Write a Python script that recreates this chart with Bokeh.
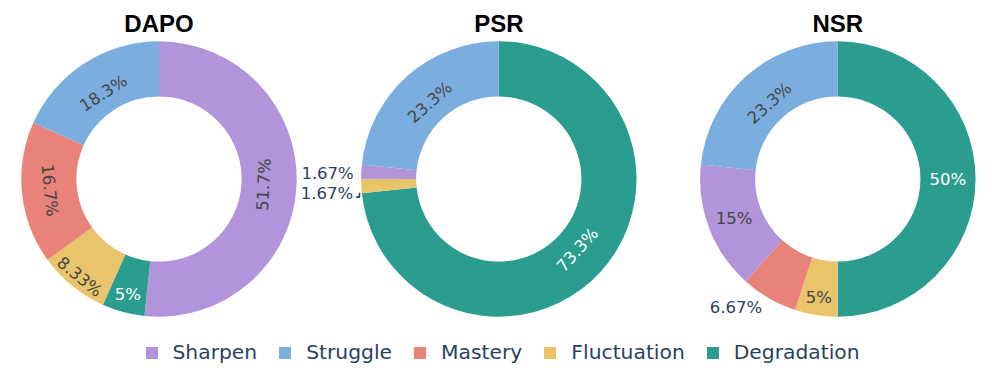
import math
from bokeh.plotting import figure
from bokeh.models import Range1d, Legend, LegendItem, ColumnDataSource
from bokeh.core.properties import value
from bokeh.embed import file_html
from bokeh.resources import INLINE

# ---------------- data ----------------
categories = ["Sharpen", "Struggle", "Mastery", "Fluctuation", "Degradation"]
colors = ["#b294db", "#7badde", "#e9837a", "#e9c46a", "#2a9d8f"]
panels = ["DAPO", "PSR", "NSR"]
dapo_pct = [51.7, 18.3, 16.7, 8.33, 5.0]
psr_pct = [1.67, 23.3, 0.0, 1.67, 73.3]
nsr_pct = [15.0, 23.3, 6.67, 5.0, 50.0]
# slice order, clockwise from 12 o'clock
dapo_order = ["Sharpen", "Degradation", "Fluctuation", "Mastery", "Struggle"]
psr_order = ["Degradation", "Fluctuation", "Mastery", "Sharpen", "Struggle"]
nsr_order = ["Degradation", "Fluctuation", "Mastery", "Sharpen", "Struggle"]

panel_values = {"DAPO": dapo_pct, "PSR": psr_pct, "NSR": nsr_pct}
panel_orders = {"DAPO": dapo_order, "PSR": psr_order, "NSR": nsr_order}

# ---------------- layout / style ----------------
W, H = 980, 369
PAGE_H = 385
centers_x = {"DAPO": 158.5, "PSR": 498.3, "NSR": 837.3}
center_y = PAGE_H - 178.5
R_OUT = 137.7
R_IN = 0.6 * R_OUT
dark_text = "#444444"
outside_text = "#2a3f5f"
label_font = value("DejaVu Sans")
label_size = value("16.5px")

# per-label placement style: ("tan"|"horiz", radius) or ("out", (dx, dy))
label_style = {
    "DAPO": {"Sharpen": ("tan", 105), "Struggle": ("tan", 102), "Mastery": ("tan", 110),
             "Fluctuation": ("tan", 126), "Degradation": ("horiz", 120)},
    "PSR": {"Struggle": ("tan", 103), "Degradation": ("tan", 106),
            "Sharpen": ("out", (-7.5, -1.7)), "Fluctuation": ("out", (-8.0, -7.3))},
    "NSR": {"Struggle": ("tan", 102), "Degradation": ("horiz", 110), "Sharpen": ("horiz", 111),
            "Fluctuation": ("horiz", 120.5), "Mastery": ("out", (-6.6, -9.5))},
}
leader_for = {("PSR", "Fluctuation"): [(-1.8, -6.6), (-1.8, -11.0), (-5.1, -11.0)]}
white_text_on = {"Degradation"}

p = figure(width=W, height=H, output_backend="svg", toolbar_location=None,
           x_range=Range1d(0, W), y_range=Range1d(PAGE_H - H, PAGE_H),
           x_axis_location=None, y_axis_location=None, min_border=0)
p.grid.visible = False
p.outline_line_color = None
p.background_fill_color = "white"
p.border_fill_color = "white"

renderers = {}
for panel in panels:
    vals = panel_values[panel]
    total = sum(vals)
    cx = centers_x[panel]
    wd = dict(x=[], y=[], start=[], end=[], color=[], cat=[])
    tin = dict(x=[], y=[], text=[], angle=[], color=[])
    tout = dict(x=[], y=[], text=[])
    acc = 0.0
    for cat in panel_orders[panel]:
        v = vals[categories.index(cat)]
        if v <= 0:
            continue
        a0 = acc / total * 2 * math.pi
        acc += v
        a1 = acc / total * 2 * math.pi
        wd["x"].append(cx)
        wd["y"].append(center_y)
        wd["start"].append(math.pi / 2 - a1)
        wd["end"].append(math.pi / 2 - a0)
        wd["color"].append(colors[categories.index(cat)])
        wd["cat"].append(cat)
        am = (a0 + a1) / 2
        theta = math.pi / 2 - am
        txt = f"{v:.3g}%"
        mode, param = label_style[panel][cat]
        if mode in ("tan", "horiz"):
            r = param
            tin["x"].append(cx + r * math.cos(theta))
            tin["y"].append(center_y + r * math.sin(theta))
            tin["text"].append(txt)
            if mode == "tan":
                ang = theta + math.pi / 2
                while ang > math.pi / 2:
                    ang -= math.pi
                while ang <= -math.pi / 2:
                    ang += math.pi
            else:
                ang = 0.0
            tin["angle"].append(ang)
            tin["color"].append("white" if cat in white_text_on else dark_text)
        else:
            ox = cx + R_OUT * math.cos(theta)
            oy = center_y + R_OUT * math.sin(theta)
            dx, dy = param
            tout["x"].append(ox + dx)
            tout["y"].append(oy + dy)
            tout["text"].append(txt)
            if (panel, cat) in leader_for:
                pts = leader_for[(panel, cat)]
                p.line([ox + a for a, b in pts], [oy + b for a, b in pts],
                       line_color=outside_text, line_width=1.6)
    src = ColumnDataSource(wd)
    r = p.annular_wedge(x="x", y="y", inner_radius=R_IN, outer_radius=R_OUT,
                        start_angle="start", end_angle="end", direction="anticlock",
                        fill_color="color", line_color="color", line_width=0.3,
                        line_alpha=0.0, source=src)
    renderers[panel] = (r, wd["cat"])
    p.text(x="x", y="y", text="text", angle="angle", text_color="color",
           source=ColumnDataSource(tin), text_font=label_font, text_font_size=label_size,
           text_align="center", text_baseline="middle")
    if tout["x"]:
        p.text(x="x", y="y", text="text", source=ColumnDataSource(tout),
               text_color=outside_text, text_font=label_font, text_font_size=label_size,
               text_align="right", text_baseline="middle")
    # panel title
    p.text(x=[cx], y=[PAGE_H - 22.8], text=[panel], text_font=value("Liberation Sans"),
           text_font_size=value("24px"), text_font_style="bold", text_color="black",
           text_align="center", text_baseline="middle")

dapo_r, dapo_cats = renderers["DAPO"]
items = [LegendItem(label=cat, renderers=[dapo_r], index=dapo_cats.index(cat)) for cat in categories]
legend = Legend(items=items, orientation="horizontal", location=(143.5, 5),
                label_text_font="DejaVu Sans", label_text_font_size="20.3px",
                label_text_color=outside_text, glyph_width=15, glyph_height=15,
                label_standoff=14, spacing=20, padding=0, margin=0,
                border_line_color=None, background_fill_alpha=0)
p.add_layout(legend, "center")

open("out.html", "w").write(file_html(p, INLINE))
